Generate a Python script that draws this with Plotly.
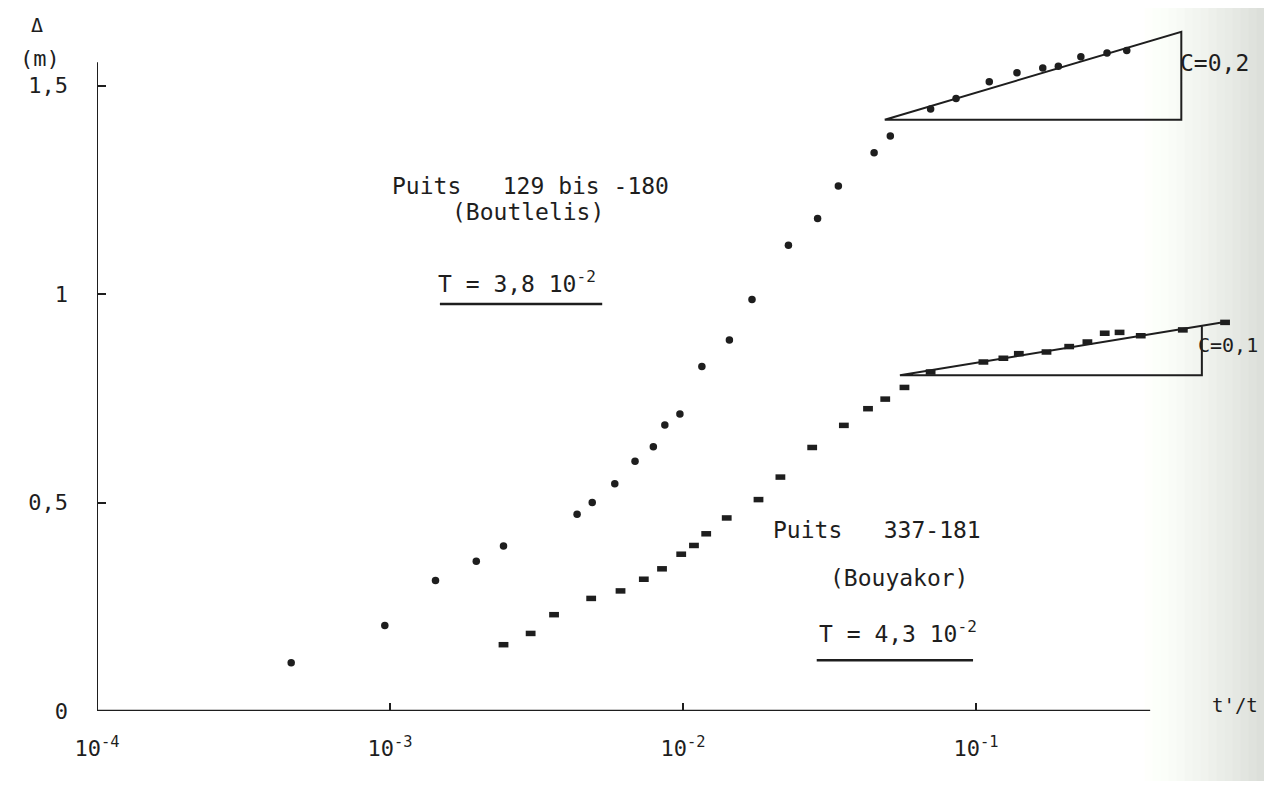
import numpy as np
import plotly.graph_objects as go

# ---------------- data ----------------
# Puits 129 bis-180 (Boutlelis) : residual drawdown vs t'/t
boutlelis_x = [4.6e-4, 9.6e-4, 1.43e-3, 1.97e-3, 2.44e-3, 4.35e-3, 4.9e-3, 5.85e-3,
               6.86e-3, 7.92e-3, 8.67e-3, 9.76e-3, 1.16e-2, 1.44e-2, 1.72e-2, 2.29e-2,
               2.88e-2, 3.39e-2, 4.49e-2, 5.1e-2, 7.0e-2, 8.55e-2, 0.111, 0.138,
               0.169, 0.191, 0.228, 0.280, 0.327]
boutlelis_y = [0.116, 0.205, 0.313, 0.359, 0.396, 0.472, 0.500, 0.545,
               0.599, 0.634, 0.686, 0.712, 0.826, 0.890, 0.987, 1.117,
               1.181, 1.259, 1.339, 1.379, 1.444, 1.469, 1.509, 1.531,
               1.542, 1.546, 1.569, 1.578, 1.584]

# Puits 337-181 (Bouyakor)
bouyakor_x = [2.44e-3, 3.02e-3, 3.63e-3, 4.86e-3, 6.12e-3, 7.35e-3, 8.48e-3, 9.86e-3,
              1.09e-2, 1.2e-2, 1.41e-2, 1.81e-2, 2.15e-2, 2.76e-2, 3.54e-2, 4.28e-2,
              4.9e-2, 5.7e-2, 7.0e-2, 0.106, 0.124, 0.140, 0.174, 0.208,
              0.240, 0.275, 0.309, 0.365, 0.508, 0.708]
bouyakor_y = [0.159, 0.186, 0.231, 0.270, 0.288, 0.316, 0.341, 0.376,
              0.397, 0.425, 0.463, 0.507, 0.561, 0.632, 0.685, 0.725,
              0.748, 0.776, 0.813, 0.837, 0.846, 0.857, 0.861, 0.874,
              0.885, 0.906, 0.908, 0.900, 0.914, 0.932]

# slope triangles (fitted straight line, one decade construction)
tri1_x = [0.0488, 0.502, 0.502, 0.0488]
tri1_y = [1.418, 1.629, 1.418, 1.418]
tri2_x = [0.724, 0.055, 0.59, 0.59]
tri2_y = [0.934, 0.805, 0.805, 0.924]

# axes
x_tick_values = [1e-4, 1e-3, 1e-2, 1e-1]
x_tick_text = ["10<sup>-4</sup>", "10<sup>-3</sup>", "10<sup>-2</sup>", "10<sup>-1</sup>"]
y_tick_values = [0, 0.5, 1, 1.5]
y_tick_text = ["0", "0,5", "1", "1,5"]
x_axis_end = 0.393
y_axis_end = 1.556

# underlines under the transmissivity values
underline1_x = [1.48e-3, 5.3e-3]
underline1_y = [0.976, 0.976]
underline2_x = [2.86e-2, 9.77e-2]
underline2_y = [0.122, 0.122]

INK = "#1e1e1e"
FONT = "DejaVu Sans Mono"
NB = "\u00a0"

fig = go.Figure()

# axis lines
fig.add_trace(go.Scatter(x=[x_tick_values[0], x_axis_end], y=[0, 0], mode="lines",
                         line=dict(color=INK, width=2.5), hoverinfo="skip", showlegend=False))
fig.add_trace(go.Scatter(x=[x_tick_values[0], x_tick_values[0]], y=[0, y_axis_end], mode="lines",
                         line=dict(color=INK, width=2), hoverinfo="skip", showlegend=False))

# triangles
for tx, ty in [(tri1_x, tri1_y), (tri2_x, tri2_y)]:
    fig.add_trace(go.Scatter(x=tx, y=ty, mode="lines", line=dict(color=INK, width=2),
                             hoverinfo="skip", showlegend=False))

# underlines
for ux, uy in [(underline1_x, underline1_y), (underline2_x, underline2_y)]:
    fig.add_trace(go.Scatter(x=ux, y=uy, mode="lines", line=dict(color=INK, width=2.5),
                             hoverinfo="skip", showlegend=False))

# data points
fig.add_trace(go.Scatter(x=boutlelis_x, y=boutlelis_y, mode="markers", name="Boutlelis",
                         marker=dict(symbol="circle", size=7.5, color=INK),
                         showlegend=False, cliponaxis=False))
fig.add_trace(go.Scatter(x=bouyakor_x, y=bouyakor_y, mode="markers", name="Bouyakor",
                         marker=dict(symbol="line-ew", size=7, color=INK,
                                     line=dict(color=INK, width=5.5)),
                         showlegend=False, cliponaxis=False))

# text annotations (annotation x on a log axis is given in log10 units)
def ann(text, x, y, xanchor="left", xref="x", size=23):
    return dict(text=text, x=np.log10(x) if xref == "x" else x, y=y, xref=xref, yref="y",
                xanchor=xanchor, yanchor="middle", showarrow=False,
                font=dict(family=FONT, size=size, color=INK))

annotations = [
    ann("Puits" + NB * 3 + "129 bis -180", 1.0e-3, 1.259),
    ann("(Boutlelis)", 1.6e-3, 1.197),
    ann("T = 3,8 10<sup>-2</sup>", 1.43e-3, 1.03),
    ann("Puits" + NB * 3 + "337-181", 2.0e-2, 0.435),
    ann("(Bouyakor)", 3.13e-2, 0.319),
    ann("T = 4,3 10<sup>-2</sup>", 2.86e-2, 0.19),
    ann("C=0,2", 0.489, 1.554),
    ann("C=0,1", 0.565, 0.878, size=20),
    ann("t'/t", 0.93, 0.014, xanchor="right", size=19),
    ann("\u0394", -0.058, 1.645, xref="paper", size=20),
    ann("(m)", -0.068, 1.566, xref="paper", size=22),
]

# scanner shadow at the right edge
shadow = []
n_steps = 16
x_start, x_stop = 0.90, 1.01
for i in range(n_steps):
    f = (i + 1) / n_steps
    v = int(round(255 - 38 * f ** 1.3))
    col = "rgb({},{},{})".format(v, min(255, v + 3), max(0, v - 2))
    shadow.append(dict(type="rect", xref="paper", yref="paper",
                       x0=x_start + (x_stop - x_start) * i / n_steps,
                       x1=x_start + (x_stop - x_start) * (i + 1) / n_steps + 0.001,
                       y0=-0.2, y1=1.02, fillcolor=col, line=dict(width=0), layer="below"))

# the page body adds an 8 px margin on every side, so the figure is sized to fit inside it
fig.update_layout(
    width=1256, height=773,
    margin=dict(l=89, r=3, t=0, b=70),
    paper_bgcolor="white", plot_bgcolor="rgba(0,0,0,0)",
    font=dict(family=FONT, color=INK),
    annotations=annotations,
    shapes=shadow,
    hovermode=False,
)
fig.update_xaxes(type="log", range=[-4, -4 + 1164 / 293], tickvals=x_tick_values,
                 ticktext=x_tick_text,
                 ticks="inside", ticklen=8, tickwidth=2, tickcolor=INK,
                 showline=False, showgrid=False, zeroline=False,
                 ticklabelstandoff=22, tickfont=dict(family=FONT, size=22, color=INK))
fig.update_yaxes(range=[0, 1.686], tickvals=y_tick_values, ticktext=y_tick_text,
                 ticks="inside", ticklen=9, tickwidth=2, tickcolor=INK,
                 showline=False, showgrid=False, zeroline=False,
                 ticklabelstandoff=28, tickfont=dict(family=FONT, size=22, color=INK))

fig.write_html("out.html")
